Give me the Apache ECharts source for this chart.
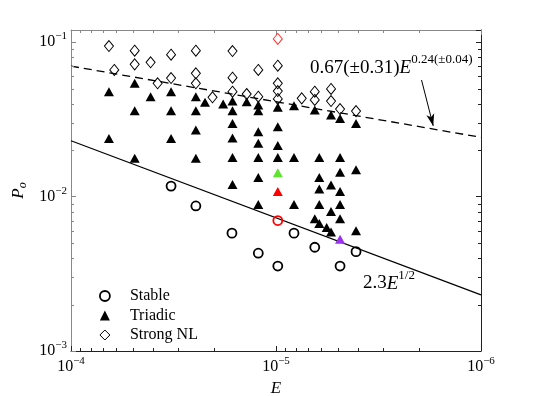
<!DOCTYPE html>
<html><head><meta charset="utf-8">
<script src="https://cdn.jsdelivr.net/npm/echarts@6/dist/echarts.min.js"></script>
<style>html,body{margin:0;padding:0;background:#fff}#c{width:545px;height:396px}</style>
</head><body><div id="c"></div>
<script>
// ---- data (E, P_o) ----
const stable = [[3.25e-5,0.0117],[2.46e-5,0.0087],[1.64e-5,0.0058],[8.17e-6,0.0058],[1.22e-5,0.0043],
  [6.47e-6,0.0047],[4.07e-6,0.0044],[9.8e-6,0.00355],[4.87e-6,0.00355]];
const stableRed = [[9.8e-6,0.0070]];
const triadic = [[6.53e-5,0.0478],[4.89e-5,0.0542],[4.09e-5,0.0444],[3.25e-5,0.0478],[2.46e-5,0.0444],[2.22e-5,0.0408],[1.81e-5,0.0398],
  [4.89e-5,0.0360],[3.25e-5,0.0360],[2.46e-5,0.0360],[2.46e-5,0.0270],[6.53e-5,0.0238],[3.25e-5,0.0238],
  [4.89e-5,0.0177],[2.46e-5,0.0177],
  [1.63e-5,0.0416],[1.39e-5,0.0412],[1.22e-5,0.0392],[9.8e-6,0.0379],[8.17e-6,0.0388],[6.47e-6,0.0364],[5.39e-6,0.0338],[4.87e-6,0.0321],[4.07e-6,0.0298],
  [1.63e-5,0.0360],[1.22e-5,0.0360],[1.63e-5,0.0298],[1.22e-5,0.0263],[9.8e-6,0.0284],[1.63e-5,0.0240],[1.22e-5,0.0222],[9.8e-6,0.0214],
  [1.63e-5,0.0179],[1.22e-5,0.0179],[9.8e-6,0.0179],[8.17e-6,0.0179],[6.15e-6,0.0179],[4.87e-6,0.0179],
  [1.22e-5,0.0133],[6.15e-6,0.0133],[4.87e-6,0.0144],[4.07e-6,0.0149],[1.63e-5,0.0120],
  [6.15e-6,0.0112],[5.39e-6,0.0119],[4.87e-6,0.0108],
  [1.22e-5,0.0089],[8.17e-6,0.0089],[6.15e-6,0.0089],[4.87e-6,0.0089],[5.39e-6,0.0080],
  [6.47e-6,0.0072],[6.15e-6,0.0067],[5.66e-6,0.0063],[5.39e-6,0.0059],[4.87e-6,0.0072],[4.07e-6,0.0060]];
const triadicGreen = [[9.8e-6,0.0143]];
const triadicRed = [[9.8e-6,0.0108]];
const triadicPurple = [[4.87e-6,0.0053]];
const strongNL = [[6.53e-5,0.0945],[4.89e-5,0.0881],[3.25e-5,0.0830],[2.46e-5,0.0881],[1.63e-5,0.0877],
  [6.15e-5,0.0661],[4.89e-5,0.0719],[4.09e-5,0.0741],[3.25e-5,0.0586],[2.46e-5,0.0629],[3.78e-5,0.0542],[2.46e-5,0.0542],[2.04e-5,0.0440],
  [1.22e-5,0.0661],[9.8e-6,0.0705],[1.63e-5,0.0589],[1.63e-5,0.0478],[1.39e-5,0.0462],[1.22e-5,0.0444],
  [9.8e-6,0.0542],[9.8e-6,0.0483],[9.8e-6,0.0429],[7.49e-6,0.0433],[6.47e-6,0.0478],[6.47e-6,0.0423],
  [5.39e-6,0.0498],[5.39e-6,0.0416],[4.87e-6,0.0369],[4.07e-6,0.0358]];
const strongNLRed = [[9.8e-6,0.105]];
const fitDashed = [[1e-4,0.0700],[1e-6,0.0242]];
const fitSolid = [[1e-4,0.0230],[1e-6,0.00231]];
const arrowFrom = [1.95e-6,0.0569];
const arrowTo = [1.71e-6,0.0287];
const legendNames = ['Stable','Triadic','Strong NL'];
const xRange = [1e-6,1e-4];
const yRange = [1e-3,0.12];
const minorMult = [2,3,4,5,6,7,8,9];
const xDecades = [1e-6,1e-5];
const yDecades = [1e-3,1e-2];

// ---- chart ----
const FONT = 'Liberation Serif';
const xMinor = xDecades.flatMap(d => minorMult.map(m => m*d));
const yMinor = yDecades.flatMap(d => minorMult.map(m => m*d));
const DARK = '#222', LIGHT = '#888';

function powLabel(v){
  const l = Math.log10(v), e = Math.round(l);
  if (Math.abs(l-e) > 1e-6) return '';
  return '{b|10}{e|' + (e<0?'\u2212':'') + Math.abs(e) + '}';
}
function richLab(pad){
  return { b:{fontSize:16,fontFamily:FONT,color:'#000'},
           e:{fontSize:11,fontFamily:FONT,color:'#000',padding:[0,0,pad,0]} };
}
function baseAxis(pos, color, showLabel, range, pad){
  return {
    type:'log', logBase:10, min:range[0], max:range[1], position:pos,
    axisLine:{show:true, onZero:false, lineStyle:{color:color,width:1}},
    axisTick:{show:true, inside:true, length:5, lineStyle:{color:color,width:1}},
    splitLine:{show:false}, minorTick:{show:false},
    axisLabel:{show:showLabel, formatter:powLabel, rich:richLab(pad), margin:pos==='bottom'?5:4,
      showMaxLabel:true, showMinLabel:true}
  };
}
const xAxis0 = Object.assign(baseAxis('bottom', DARK, true, xRange, 11), {inverse:true,
  name:'E', nameLocation:'middle', nameGap:28,
  nameTextStyle:{fontFamily:FONT,fontStyle:'italic',fontSize:17,color:'#000'}});
const xAxis1 = Object.assign(baseAxis('top', LIGHT, false, xRange, 11), {inverse:true});
const yAxis0 = Object.assign(baseAxis('left', LIGHT, true, yRange, 12), {
  name:'{p|P}{o|o}', nameLocation:'middle', nameGap:37, nameRotate:90,
  nameTextStyle:{rich:{p:{fontFamily:FONT,fontStyle:'italic',fontSize:17,color:'#000'},
                       o:{fontFamily:FONT,fontStyle:'italic',fontSize:12,color:'#000',padding:[7,0,0,0]}}}});
const yAxis1 = baseAxis('right', DARK, false, yRange, 12);

function tickSeries(vals, isX){
  return {
    type:'custom', silent:true, z:10, clip:false,
    data: vals.map(v => isX ? [v, 0.01] : [1e-5, v]),
    encode:{x:0,y:1},
    renderItem(params, api){
      const cs = params.coordSys;
      const p = api.coord([api.value(0), api.value(1)]);
      if (isX) {
        const x = Math.round(p[0]) + 0.5, b = cs.y + cs.height, t = cs.y;
        return {type:'group', children:[
          {type:'line', shape:{x1:x,y1:b,x2:x,y2:b-3}, style:{stroke:DARK,lineWidth:1}},
          {type:'line', shape:{x1:x,y1:t,x2:x,y2:t+3}, style:{stroke:LIGHT,lineWidth:1}}]};
      } else {
        const y = Math.round(p[1]) + 0.5, l = cs.x, r = cs.x + cs.width;
        return {type:'group', children:[
          {type:'line', shape:{x1:l,y1:y,x2:l+3,y2:y}, style:{stroke:LIGHT,lineWidth:1}},
          {type:'line', shape:{x1:r,y1:y,x2:r-3,y2:y}, style:{stroke:DARK,lineWidth:1}}]};
      }
    }
  };
}
function special(arr, style){ return arr.map(p => ({value:p, itemStyle:style})); }

const chart = echarts.init(document.getElementById('c'), null, {renderer:'canvas'});
chart.setOption({
  animation:false,
  backgroundColor:'#fff',
  grid:{left:71, right:64, top:30, bottom:45, containLabel:false, outerBoundsMode:'none'},
  xAxis:[xAxis0, xAxis1],
  yAxis:[yAxis0, yAxis1],
  legend:{data:[
      {name:legendNames[0], itemStyle:{borderWidth:1.8}},
      {name:legendNames[1]},
      {name:legendNames[2], itemStyle:{borderWidth:1}}],
    orient:'vertical', left:99, top:288, padding:0,
    itemWidth:10, itemHeight:10, itemGap:3.5, selectedMode:false,
    textStyle:{fontFamily:FONT,fontSize:16,color:'#000',lineHeight:16,padding:[0,0,0,15]}},
  graphic:[
    {type:'text', left:310, top:53, silent:true, style:{
      text:'{a|0.67(\u00b10.31)}{i|E}{s|0.24(\u00b10.04)}',
      rich:{a:{fontFamily:FONT,fontSize:19,fill:'#000'},
            i:{fontFamily:FONT,fontSize:19,fontStyle:'italic',fill:'#000'},
            s:{fontFamily:FONT,fontSize:13,fill:'#000',padding:[0,0,17,0]}}}},
    {type:'text', left:363, top:269, silent:true, style:{
      text:'{a|2.3}{i|E}{s|1/2}',
      rich:{a:{fontFamily:FONT,fontSize:19,fill:'#000'},
            i:{fontFamily:FONT,fontSize:19,fontStyle:'italic',fill:'#000'},
            s:{fontFamily:FONT,fontSize:13,fill:'#000',padding:[0,0,16,0]}}}}
  ],
  series:[
    {type:'line', data:fitDashed, symbol:'none', silent:true, z:2,
      lineStyle:{color:'#000',width:1.3,type:[8,5]},
      markLine:{silent:true, symbol:['none','arrow'], symbolSize:[6,12], animation:false,
        label:{show:false}, lineStyle:{color:'#000',width:1,type:'solid'},
        data:[[{coord:arrowFrom},{coord:arrowTo}]]}},
    {type:'line', data:fitSolid, symbol:'none', silent:true, z:2,
      lineStyle:{color:'#000',width:1.2}},
    {name:'Stable', type:'scatter', symbol:'circle', symbolSize:9, z:3,
      itemStyle:{color:'rgba(0,0,0,0)', borderColor:'#000', borderWidth:1.8, opacity:1},
      data: stable.concat(special(stableRed,{color:'rgba(0,0,0,0)',borderColor:'#ff0000',borderWidth:1.8,opacity:1}))},
    {name:'Triadic', type:'scatter', symbol:'triangle', symbolSize:[10,9], z:3,
      itemStyle:{color:'#000', opacity:1},
      data: triadic.concat(special(triadicGreen,{color:'#5fe52f',opacity:1}),
                           special(triadicRed,{color:'#ff0000',opacity:1}),
                           special(triadicPurple,{color:'#9933ee',opacity:1}))},
    {name:'Strong NL', type:'scatter', symbol:'diamond', symbolSize:[9,11], z:3,
      itemStyle:{color:'rgba(0,0,0,0)', borderColor:'#000', borderWidth:1, opacity:1},
      data: strongNL.concat(special(strongNLRed,{color:'rgba(0,0,0,0)',borderColor:'#ff3333',borderWidth:1,opacity:1}))},
    tickSeries(xMinor, true),
    tickSeries(yMinor, false)
  ]
});
</script></body></html>
